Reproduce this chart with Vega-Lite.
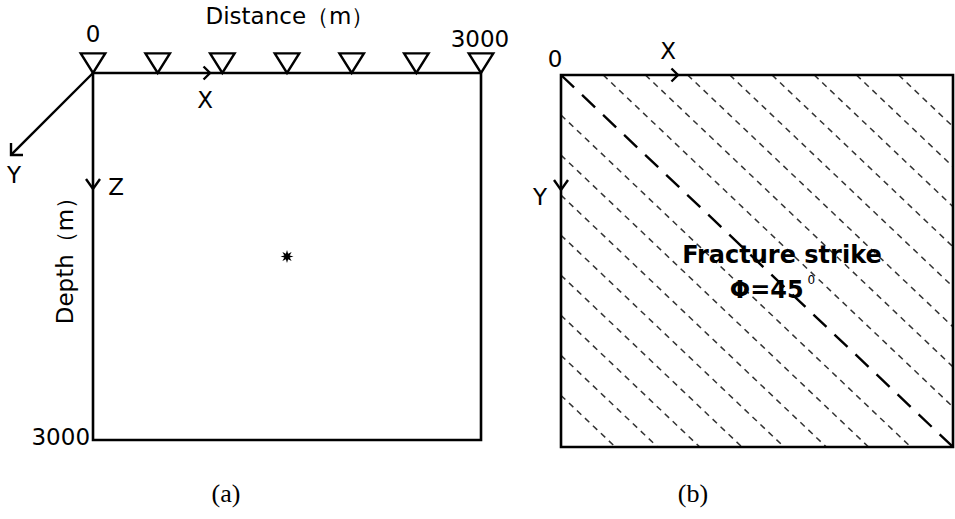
{
  "$schema": "https://vega.github.io/schema/vega-lite/v6.json",
  "background": "white",
  "padding": 0,
  "spacing": 0,
  "config": {
    "view": {"stroke": null},
    "text": {"font": "DejaVu Sans", "color": "black"}
  },
  "hconcat": [
    {
      "width": 520,
      "height": 519,
      "encoding": {
        "x": {"field": "x", "type": "quantitative", "axis": null, "scale": {"domain": [-719.1, 3301.5], "nice": false, "zero": false}},
        "y": {"field": "y", "type": "quantitative", "axis": null, "scale": {"domain": [-596.7, 3645.8], "nice": false, "zero": false, "reverse": true}}
      },
      "layer": [
        {
          "data": {"values": [{"x": 0, "y": 0, "x2": 3000, "y2": 3000}]},
          "mark": {"type": "rect", "filled": false, "stroke": "black", "strokeWidth": 2.6},
          "encoding": {"x2": {"field": "x2"}, "y2": {"field": "y2"}}
        },
        {
          "data": {"values": [{"x": 0, "y": 0, "x2": -634, "y2": 670}]},
          "mark": {"type": "rule", "color": "black", "strokeWidth": 2.4},
          "encoding": {"x2": {"field": "x2"}, "y2": {"field": "y2"}}
        },
        {
          "data": {"values": [{"x": 0, "y": 0}, {"x": 500, "y": 0}, {"x": 1000, "y": 0}, {"x": 1500, "y": 0}, {"x": 2000, "y": 0}, {"x": 2500, "y": 0}, {"x": 3000, "y": 0}]},
          "mark": {"type": "point", "shape": "M-1,-1.6L1,-1.6L0,0Z", "size": 600, "filled": false, "stroke": "black", "strokeWidth": 2.4, "opacity": 1}
        },
        {
          "data": {"values": [{"x": 905, "y": 0}]},
          "mark": {"type": "point", "shape": "M-1,-1L0,0L-1,1", "size": 169, "filled": false, "stroke": "black", "strokeWidth": 2.4, "opacity": 1}
        },
        {
          "data": {"values": [{"x": 0, "y": 948}]},
          "mark": {"type": "point", "shape": "M-0.7,-1L0,0L0.7,-1", "size": 400, "filled": false, "stroke": "black", "strokeWidth": 2.4, "opacity": 1}
        },
        {
          "data": {"values": [{"x": -634, "y": 670}]},
          "mark": {"type": "point", "shape": "M0,-1L0,0L1,0", "size": 576, "filled": false, "stroke": "black", "strokeWidth": 2.4, "opacity": 1}
        },
        {
          "data": {"values": [{"x": 1500, "y": 1500}]},
          "mark": {"type": "point", "shape": "M1,0L0.416,0.172L0.707,0.707L0.172,0.416L0,1L-0.172,0.416L-0.707,0.707L-0.416,0.172L-1,0L-0.416,-0.172L-0.707,-0.707L-0.172,-0.416L0,-1L0.172,-0.416L0.707,-0.707L0.416,-0.172Z", "size": 169, "filled": true, "color": "black", "opacity": 1}
        },
        {
          "data": {"values": [
            {"x": 1523, "y": -458, "label": "Distance（m）"},
            {"x": 0, "y": -311, "label": "0"},
            {"x": 2992, "y": -270, "label": "3000"},
            {"x": 866, "y": 229, "label": "X"},
            {"x": -611, "y": 842, "label": "Y"},
            {"x": 178, "y": 940, "label": "Z"}
          ]},
          "mark": {"type": "text", "fontSize": 23, "align": "center", "baseline": "middle"},
          "encoding": {"text": {"field": "label"}}
        },
        {
          "data": {"values": [{"x": -23, "y": 2985, "label": "3000"}]},
          "mark": {"type": "text", "fontSize": 23, "align": "right", "baseline": "middle"},
          "encoding": {"text": {"field": "label"}}
        },
        {
          "data": {"values": [{"x": -209, "y": 1488, "label": "Depth（m）"}]},
          "mark": {"type": "text", "fontSize": 23, "align": "center", "baseline": "middle", "angle": 270},
          "encoding": {"text": {"field": "label"}}
        },
        {
          "data": {"values": [{"x": 1028, "y": 3441, "label": "(a)"}]},
          "mark": {"type": "text", "font": "Liberation Serif", "fontSize": 26, "align": "center", "baseline": "middle"},
          "encoding": {"text": {"field": "label"}}
        }
      ]
    },
    {
      "width": 435,
      "height": 519,
      "encoding": {
        "x": {"field": "x", "type": "quantitative", "axis": null, "scale": {"domain": [-313.8, 3015.3], "nice": false, "zero": false}},
        "y": {"field": "y", "type": "quantitative", "axis": null, "scale": {"domain": [-604.8, 3580.6], "nice": false, "zero": false, "reverse": true}}
      },
      "layer": [
        {
          "data": {"values": [
            {"x": 323, "y": 0, "x2": 3000, "y2": 2677},
            {"x": 646, "y": 0, "x2": 3000, "y2": 2354},
            {"x": 969, "y": 0, "x2": 3000, "y2": 2031},
            {"x": 1292, "y": 0, "x2": 3000, "y2": 1708},
            {"x": 1615, "y": 0, "x2": 3000, "y2": 1385},
            {"x": 1938, "y": 0, "x2": 3000, "y2": 1062},
            {"x": 2261, "y": 0, "x2": 3000, "y2": 739},
            {"x": 2584, "y": 0, "x2": 3000, "y2": 416},
            {"x": 0, "y": 323, "x2": 2677, "y2": 3000},
            {"x": 0, "y": 646, "x2": 2354, "y2": 3000},
            {"x": 0, "y": 969, "x2": 2031, "y2": 3000},
            {"x": 0, "y": 1292, "x2": 1708, "y2": 3000},
            {"x": 0, "y": 1615, "x2": 1385, "y2": 3000},
            {"x": 0, "y": 1938, "x2": 1062, "y2": 3000},
            {"x": 0, "y": 2261, "x2": 739, "y2": 3000},
            {"x": 0, "y": 2584, "x2": 416, "y2": 3000}
          ]},
          "mark": {"type": "rule", "color": "#333333", "strokeWidth": 1.5, "strokeDash": [6, 5]},
          "encoding": {"x2": {"field": "x2"}, "y2": {"field": "y2"}}
        },
        {
          "data": {"values": [{"x": 0, "y": 0, "x2": 3000, "y2": 3000}]},
          "mark": {"type": "rule", "color": "black", "strokeWidth": 2.4, "strokeDash": [18, 11]},
          "encoding": {"x2": {"field": "x2"}, "y2": {"field": "y2"}}
        },
        {
          "data": {"values": [{"x": 0, "y": 0, "x2": 3000, "y2": 3000}]},
          "mark": {"type": "rect", "filled": false, "stroke": "black", "strokeWidth": 2.6},
          "encoding": {"x2": {"field": "x2"}, "y2": {"field": "y2"}}
        },
        {
          "data": {"values": [{"x": 895, "y": 0}]},
          "mark": {"type": "point", "shape": "M-1,-1L0,0L-1,1", "size": 169, "filled": false, "stroke": "black", "strokeWidth": 2.4, "opacity": 1}
        },
        {
          "data": {"values": [{"x": 0, "y": 927}]},
          "mark": {"type": "point", "shape": "M-0.7,-1L0,0L0.7,-1", "size": 400, "filled": false, "stroke": "black", "strokeWidth": 2.4, "opacity": 1}
        },
        {
          "data": {"values": [
            {"x": -46, "y": -121, "label": "0"},
            {"x": 819, "y": -185, "label": "X"},
            {"x": -161, "y": 992, "label": "Y"}
          ]},
          "mark": {"type": "text", "fontSize": 23, "align": "center", "baseline": "middle"},
          "encoding": {"text": {"field": "label"}}
        },
        {
          "data": {"values": [
            {"x": 1691, "y": 1460, "label": "Fracture strike"},
            {"x": 1575, "y": 1742, "label": "Φ=45"}
          ]},
          "mark": {"type": "text", "fontSize": 24, "fontWeight": "bold", "align": "center", "baseline": "middle"},
          "encoding": {"text": {"field": "label"}}
        },
        {
          "data": {"values": [{"x": 1915, "y": 1655, "label": "0"}]},
          "mark": {"type": "text", "fontSize": 12, "align": "center", "baseline": "middle"},
          "encoding": {"text": {"field": "label"}}
        },
        {
          "data": {"values": [{"x": 1010, "y": 3379, "label": "(b)"}]},
          "mark": {"type": "text", "font": "Liberation Serif", "fontSize": 26, "align": "center", "baseline": "middle"},
          "encoding": {"text": {"field": "label"}}
        }
      ]
    }
  ]
}
